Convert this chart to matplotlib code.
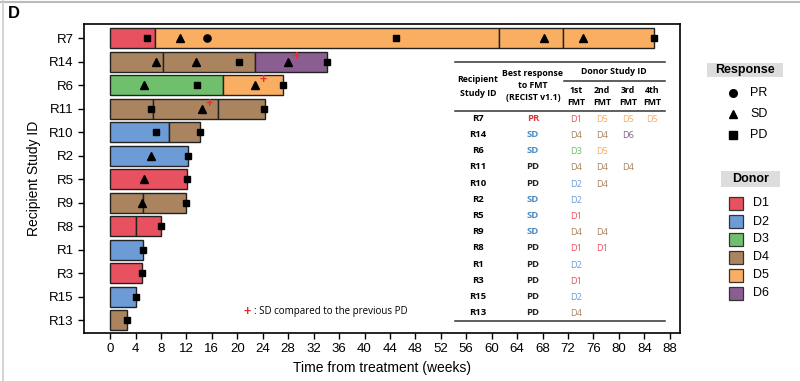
import matplotlib.pyplot as plt
from matplotlib.patches import Rectangle
from matplotlib.lines import Line2D

# ── Data ─────────────────────────────────────────────────────────────────────
patients = ["R7", "R14", "R6", "R11", "R10", "R2", "R5", "R9", "R8", "R1", "R3", "R15", "R13"]

# one entry per FMT segment: (end week, donor); segments start where the previous ends
segments = {
    "R7":  [(7.1, "D1"), (61.1, "D5"), (71.2, "D5"), (85.5, "D5")],
    "R14": [(8.3, "D4"), (22.8, "D4"), (34.1, "D6")],
    "R6":  [(17.8, "D3"), (27.2, "D5")],
    "R11": [(6.8, "D4"), (16.9, "D4"), (24.3, "D4")],
    "R10": [(9.2, "D2"), (14.1, "D4")],
    "R2":  [(12.2, "D2")],
    "R5":  [(12.1, "D1")],
    "R9":  [(5.1, "D4"), (11.9, "D4")],
    "R8":  [(4.1, "D1"), (8.0, "D1")],
    "R1":  [(5.1, "D2")],
    "R3":  [(5.0, "D1")],
    "R15": [(4.1, "D2")],
    "R13": [(2.7, "D4")],
}

# tumour assessments: (week, response)
assessments = {
    "R7":  [(5.8, "PD"), (11.0, "SD"), (15.2, "PR"), (45.0, "PD"), (68.2, "SD"), (74.4, "SD"), (85.5, "PD")],
    "R14": [(7.2, "SD"), (13.5, "SD"), (20.2, "PD"), (28.0, "SD"), (34.1, "PD")],
    "R6":  [(5.3, "SD"), (13.7, "PD"), (22.8, "SD"), (27.2, "PD")],
    "R11": [(6.5, "PD"), (14.4, "SD"), (24.2, "PD")],
    "R10": [(7.2, "PD"), (14.1, "PD")],
    "R2":  [(6.5, "SD"), (12.2, "PD")],
    "R5":  [(5.4, "SD"), (12.1, "PD")],
    "R9":  [(5.0, "SD"), (11.9, "PD")],
    "R8":  [(8.0, "PD")],
    "R1":  [(5.1, "PD")],
    "R3":  [(5.0, "PD")],
    "R15": [(4.1, "PD")],
    "R13": [(2.7, "PD")],
}

# SD compared to the previous PD: (patient, week)
sd_vs_pd = [("R14", 28.0), ("R6", 22.8), ("R11", 14.4)]

best_response = ["PR", "SD", "SD", "PD", "PD", "SD", "SD", "SD", "PD", "PD", "PD", "PD", "PD"]
donors_table = [["D1", "D5", "D5", "D5"], ["D4", "D4", "D6"], ["D3", "D5"], ["D4", "D4", "D4"],
                ["D2", "D4"], ["D2"], ["D1"], ["D4", "D4"], ["D1", "D1"], ["D2"], ["D1"], ["D2"], ["D4"]]

donor_colors = {"D1": "#E8515F", "D2": "#6C9BD6", "D3": "#6FBF6C", "D4": "#A9845F",
                "D5": "#F9AE62", "D6": "#8A5E90"}
resp_markers = {"PR": "o", "SD": "^", "PD": "s"}
resp_colors = {"PR": "#D83A3A", "SD": "#4A8CC4", "PD": "#222222"}

xticks = list(range(0, 89, 4))

# ── Figure ───────────────────────────────────────────────────────────────────
plt.rcParams["font.family"] = ["Liberation Sans", "DejaVu Sans"]
fig = plt.figure(figsize=(8, 3.81), dpi=100)
ax = fig.add_axes([84 / 800, 1 - 333 / 381, 596 / 800, 309 / 381])

for i, p in enumerate(patients):
    start = 0
    for end, d in segments[p]:
        ax.barh(i, end - start, left=start, height=0.85, color=donor_colors[d],
                edgecolor="#222222", linewidth=1.0, zorder=2)
        start = end
    for wk, r in assessments[p]:
        ms = 4.8 if r == "PD" else 5.2
        ax.plot(wk, i, marker=resp_markers[r], color="black", markersize=ms,
                linestyle="none", zorder=3)

for p, wk in sd_vs_pd:
    i = patients.index(p)
    ax.text(wk + 1.2, i - 0.2, "+", color="#E03030", fontsize=9, fontweight="bold",
            ha="center", va="center", zorder=4)

ax.set_xlim(-4.1, 89.6)
ax.set_ylim(12.55, -0.6)
ax.set_yticks(range(len(patients)))
ax.set_yticklabels(patients, fontsize=9.5)
ax.set_xticks(xticks)
ax.set_xticklabels([str(t) for t in xticks], fontsize=9.5)
ax.tick_params(length=4, width=1)
for s in ax.spines.values():
    s.set_linewidth(1.2)
ax.set_xlabel("Time from treatment (weeks)", fontsize=10, labelpad=4)
ax.set_ylabel("Recipient Study ID", fontsize=10, labelpad=6)

ax.text(21.5, 11.65, "+", color="#E03030", fontsize=9, fontweight="bold", ha="center", va="center")
ax.text(22.6, 11.65, ": SD compared to the previous PD", fontsize=7, va="center",
        family=["Open Sans", "DejaVu Sans"])

# ── Table drawn in pixel-space of the figure ─────────────────────────────────
def fx(px):
    return px / 800

def fy(py):
    return 1 - py / 381

tf = ["Open Sans", "DejaVu Sans"]
for x0, x1, yy in [(455, 665, 62), (564, 665, 81), (455, 665, 111), (455, 665, 321)]:
    fig.add_artist(Line2D([fx(x0), fx(x1)], [fy(yy), fy(yy)], color="#333333", lw=1.1))

hkw = dict(fontsize=6.3, fontweight="bold", ha="center", va="center", family=tf)
fig.text(fx(478), fy(80), "Recipient", **hkw)
fig.text(fx(478), fy(93), "Study ID", **hkw)
fig.text(fx(533), fy(74), "Best response", **hkw)
fig.text(fx(533), fy(85), "to FMT", **hkw)
fig.text(fx(533), fy(97), "(RECIST v1.1)", **hkw)
fig.text(fx(614), fy(71.5), "Donor Study ID", **hkw)
col_x = [576, 602, 628, 652]
for cx, lab in zip(col_x, ["1st", "2nd", "3rd", "4th"]):
    fig.text(fx(cx), fy(90.5), lab, **hkw)
    fig.text(fx(cx), fy(102.5), "FMT", **hkw)

rkw = dict(hkw, fontsize=6.8)
for i, p in enumerate(patients):
    ry = 118.3 + i * 16.2
    fig.text(fx(478), fy(ry), p, **rkw)
    br = best_response[i]
    fig.text(fx(533), fy(ry), br, color=resp_colors[br], **rkw)
    for j, d in enumerate(donors_table[i]):
        fig.text(fx(col_x[j]), fy(ry + 1), d, color=donor_colors[d], fontsize=6.6,
                 ha="center", va="center", family=tf)

# ── Legends ──────────────────────────────────────────────────────────────────
fig.add_artist(Rectangle((fx(707), fy(77)), 76 / 800, 14 / 381, facecolor="#DDDDDD",
                         edgecolor="none", transform=fig.transFigure))
fig.text(fx(745), fy(69.5), "Response", fontsize=9, fontweight="bold", ha="center", va="center")
for k, (lab, yy) in enumerate([("PR", 93), ("SD", 114), ("PD", 135.5)]):
    fig.add_artist(Line2D([fx(733)], [fy(yy)], marker=resp_markers[lab], color="black",
                          markersize=5.5, linestyle="none"))
    fig.text(fx(750), fy(yy), lab, fontsize=9, va="center")

fig.add_artist(Rectangle((fx(721), fy(187)), 59 / 800, 16 / 381, facecolor="#DDDDDD",
                         edgecolor="none", transform=fig.transFigure))
fig.text(fx(750.5), fy(179), "Donor", fontsize=9, fontweight="bold", ha="center", va="center")
for k, d in enumerate(["D1", "D2", "D3", "D4", "D5", "D6"]):
    yy = 203.5 + k * 18
    fig.add_artist(Rectangle((fx(729), fy(yy + 6.5)), 13.5 / 800, 13 / 381,
                             facecolor=donor_colors[d], edgecolor="#333333", lw=0.9,
                             transform=fig.transFigure))
    fig.text(fx(753), fy(yy), d, fontsize=9, va="center")

fig.text(fx(8), fy(14), "D", fontsize=12, fontweight="bold", va="center")
fig.add_artist(Line2D([0, 1], [fy(1.5), fy(1.5)], color="#BBBBBB", lw=1.5))
fig.add_artist(Line2D([fx(3), fx(3)], [0, 1], color="#CCCCCC", lw=1.2))

fig.savefig("out.png", dpi=100)
